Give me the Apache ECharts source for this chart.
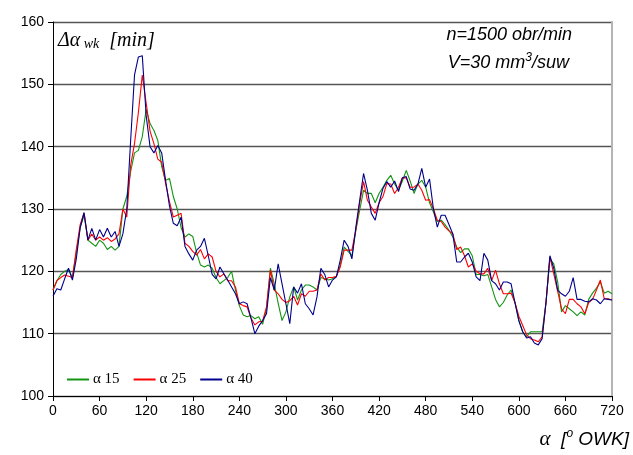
<!DOCTYPE html>
<html>
<head>
<meta charset="utf-8">
<script src="https://cdn.jsdelivr.net/npm/echarts@6/dist/echarts.min.js"></script>
<style>html,body{margin:0;padding:0;background:#fff}#c{width:633px;height:455px}</style>
</head>
<body>
<div id="c"></div>
<script>
var xTicks = [0,60,120,180,240,300,360,420,480,540,600,660,720];
var yTicks = [100,110,120,130,140,150,160];
var seriesNames = ['\u03b1 15','\u03b1 25','\u03b1 40'];
// crank angle, step 5 deg
var angles = [];
for (var a = 0; a <= 720; a += 5) angles.push(a);

var alpha15 = [117,118.5,119.5,120,120.3,119,123,127,129,125,124.5,124,125,124.5,123.5,124,123.4,124,130,132,
136,139,139.4,141.6,146,143.7,142.6,141,136.8,134.6,134.9,132,130,127,125.5,126,125.6,123,121,120.7,
121,120.5,119,118,118.5,119,120,117,114.5,113,112.7,112.9,112.4,112.7,111.5,114,120.5,118,114.9,112.1,
113.5,115.9,117.5,115.4,117,117.8,117.8,117.5,117,119,118.8,118.6,118.8,119.2,121,123.9,123.2,122.5,126.5,129.8,
133,132.5,132.5,131,132.5,133.5,134.6,135.4,134,133,134.5,136.2,134.5,132.5,134,134.6,133.5,131,129.5,128,
128.2,127.5,126.6,125.5,123.9,123,123.6,123.6,122.5,119.5,119.5,119.3,119.5,117.5,115.5,114.3,115,116.2,117,115,
112.1,110.3,109.5,110.3,110.3,110.3,110.3,115,122,121.2,118.3,113.5,114.5,114,113.5,112.9,113.5,113,115.5,116.5,
117.3,118.3,116.5,116.8,116.4];
var alpha25 = [117,118.5,119,119.4,119.2,119,123.5,127.5,129.4,125,126,125,125.5,125,125.4,124.8,125.2,126,130,128.7,
137,140.5,145.5,151.5,147,142.5,140.5,138,137.5,134.1,131.2,128.7,129,129.3,124.5,124,123.2,122.6,123.5,122,
122.8,122.3,120,119.1,119.6,118.5,118.5,117.5,114.8,114.5,114.3,112.5,111.4,111.9,112,114.3,120.2,117,116.4,115.5,
115,115.3,116,114.6,116.4,116,116.8,116.8,117,119.6,118.6,119,119,119.2,120.7,123.4,123.4,123.4,126.6,130.9,
134.4,131.4,130.3,129.3,131,132,134.1,134,132.5,133.5,135,135,133.5,133.5,134,133,131.4,131.5,130,128.2,
128,127.1,126.5,126,123.5,123.9,122.5,120.7,121.2,120,119.6,119.6,120.5,118.5,120.2,118,116.4,116.4,116.5,115,
112.8,111.3,109.8,109.2,109,108.7,109.5,115,122.3,119.6,116.8,114,113.2,115.5,115.5,114.8,114.3,113.2,115,115.5,
117,118.6,115.6,115.6,115.4];
var alpha40 = [116,117.2,117,118.8,120.5,118.6,122,127,129.4,125,126.9,125,126.7,125.5,126.9,125.5,126.4,124,126,130,
141,151.5,154.4,154.6,145,140,139,140.2,139,134.6,130.5,127.7,127.3,128.7,124,122.8,121.8,123.4,124,125.3,
122.5,119.5,118.8,120.7,119.6,118.6,117.5,116.4,114.8,115.1,114.8,112.5,110,111.2,112.1,113.2,119,117,121.2,118,
114.8,111.6,117.5,116.5,118,114.8,114,113,115.9,120.5,119.5,117.5,118.6,119.1,121.8,125,124,122,127,131.4,
135.7,133,129.3,128.2,131,133.3,134.4,133.5,134.5,132.8,135,135.2,133.2,133,134,136.5,133.5,134.8,130,127.1,
129,129,127.5,126,121.5,121.5,122.3,122.9,121.5,119.1,118.5,122.9,121.8,118.5,118,117,118.3,118.3,118,115,
112.1,110.3,109.3,109.5,108.5,108.2,109.2,115,122.5,120.5,117,116.4,116,116.8,119,115.5,115.5,115.2,115.1,115.6,
115.4,114.8,115.6,115.5,115.4];
var colors = ['#139413','#ff0000','#00008c'];

function pairs(vals){ return angles.map(function(a,i){ return [a, vals[i]]; }); }

var chart = echarts.init(document.getElementById('c'));
var sans = 'Liberation Sans, Arial, sans-serif';
var serif = 'Liberation Serif, Times New Roman, serif';
chart.setOption({
  animation: false,
  grid: {left: 53, right: 21, top: 22, bottom: 59, containLabel: false},
  legend: {
    left: 62, top: 367, itemWidth: 22, itemHeight: 2, itemGap: 14, icon: 'rect',
    data: seriesNames,
    textStyle: {fontFamily: serif, fontSize: 15, color: '#000', padding: [0,0,0,-1]}
  },
  xAxis: {
    type: 'value', min: xTicks[0], max: xTicks[xTicks.length-1], interval: 60,
    axisLine: {lineStyle: {color: '#000', width: 1}},
    axisTick: {show: true, length: 5, lineStyle: {color: '#000'}},
    axisLabel: {fontFamily: sans, fontSize: 14, color: '#000', margin: 8},
    splitLine: {show: false}
  },
  yAxis: [{
    type: 'value', min: yTicks[0], max: yTicks[yTicks.length-1], interval: 10,
    axisLine: {show: true, lineStyle: {color: '#000', width: 1}},
    axisTick: {show: true, length: 5, lineStyle: {color: '#000'}},
    axisLabel: {fontFamily: sans, fontSize: 14, color: '#000', margin: 9},
    splitLine: {show: true, lineStyle: {color: '#555', width: 1.3}}
  }, {
    type: 'value', position: 'right', min: 100, max: 160, interval: 10,
    axisLine: {show: true, lineStyle: {color: '#b4b4b4', width: 2}},
    axisTick: {show: false}, axisLabel: {show: false}, splitLine: {show: false}
  }],
  series: [alpha15, alpha25, alpha40].map(function(v, i){
    return {
      name: seriesNames[i], type: 'line', data: pairs(v), showSymbol: false, symbol: 'none',
      lineStyle: {color: colors[i], width: 1.1}, itemStyle: {color: colors[i]}, z: 3 + i
    };
  }),
  graphic: [
    {type: 'text', left: 58, top: 31, style: {
      text: '{a|\u0394\u03b1}{s| wk}{a|  [min]}',
      rich: {
        a: {fontFamily: serif, fontStyle: 'italic', fontSize: 20, fill: '#000'},
        s: {fontFamily: serif, fontStyle: 'italic', fontSize: 14, fill: '#000', padding: [7,0,0,0]}
      }
    }},
    {type: 'text', right: 61, top: 26, style: {
      text: 'n=1500 obr/min', fontFamily: sans, fontStyle: 'italic', fontSize: 18, fill: '#000'
    }},
    {type: 'text', right: 64, top: 52, style: {
      text: '{t|V=30 mm}{u|3}{t|/suw}',
      rich: {
        t: {fontFamily: sans, fontStyle: 'italic', fontSize: 18, fill: '#000'},
        u: {fontFamily: sans, fontStyle: 'italic', fontSize: 12, fill: '#000', padding: [0,0,10,0]}
      }
    }},
    {type: 'text', right: 4, top: 428, style: {
      text: '{g|\u03b1}{t|  [}{u|o}{t| OWK]}',
      rich: {
        g: {fontFamily: serif, fontStyle: 'italic', fontSize: 21, fill: '#000'},
        t: {fontFamily: sans, fontStyle: 'italic', fontSize: 19, fill: '#000'},
        u: {fontFamily: sans, fontStyle: 'italic', fontSize: 12, fill: '#000', padding: [0,0,11,0]}
      }
    }}
  ]
});
</script>
</body>
</html>
